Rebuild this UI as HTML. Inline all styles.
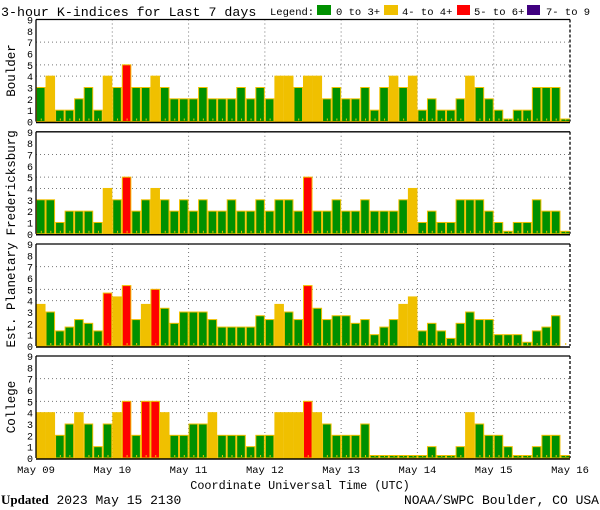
<!DOCTYPE html>
<html><head><meta charset="utf-8">
<style>
body{margin:0;background:#fff;width:600px;height:510px;overflow:hidden}
svg{display:block}
text{font-family:"Liberation Mono",monospace}
</style></head>
<body>
<svg id="chart" width="600" height="510" viewBox="0 0 600 510" xmlns="http://www.w3.org/2000/svg">
<text x="1" y="16" font-size="13.3" fill="#000">3-hour K-indices for Last 7 days</text>
<g>
<text x="270" y="15" font-size="10.5">Legend:</text>
<rect x="317" y="5" width="14" height="10" fill="#009000"/><text x="336" y="15" font-size="10.5">0 to 3+</text>
<rect x="384" y="5" width="14" height="10" fill="#f0c000"/><text x="402" y="15" font-size="10.5">4- to 4+</text>
<rect x="457" y="5" width="13" height="10" fill="#ff0000"/><text x="474" y="15" font-size="10.5">5- to 6+</text>
<rect x="527" y="5" width="13" height="10" fill="#400080"/><text x="546" y="15" font-size="10.5">7- to 9</text>
</g>
<g id="panels"></g>
<text x="300" y="489" font-size="11.8" text-anchor="middle">Coordinate Universal Time (UTC)</text>
<text x="1" y="504" font-size="13"><tspan font-family="Liberation Serif,serif" font-weight="bold">Updated</tspan> 2023 May 15 2130</text>
<text x="599" y="504" font-size="13" text-anchor="end">NOAA/SWPC Boulder, CO USA</text>
</svg>
<script>
const stations = ["Boulder","Fredericksburg","Est. Planetary","College"];
const boulder = [3,4,1,1,2,3,1,4, 3,5,3,3,4,3,2,2, 2,3,2,2,2,3,2,3, 2,4,4,3,4,4,2,3, 2,2,3,1,3,4,3,4, 1,2,1,1,2,4,3,2, 1,0,1,1,3,3,3,0];
const fredericksburg = [3,3,1,2,2,2,1,4, 3,5,2,3,4,3,2,3, 2,3,2,2,3,2,2,3, 2,3,3,2,5,2,2,3, 2,2,3,2,2,2,3,4, 1,2,1,1,3,3,3,2, 1,0,1,1,3,2,2,0];
const planetary = [3.67,3,1.33,1.67,2.33,2,1.33,4.67, 4.33,5.33,2.33,3.67,5,3.33,2,3, 3,3,2.33,1.67,1.67,1.67,1.67,2.67, 2.33,3.67,3,2.33,5.33,3.33,2.33,2.67, 2.67,2,2.33,1,1.67,2.33,3.67,4.33, 1.33,2,1.33,0.67,2,3,2.33,2.33, 1,1,1,0.33,1.33,1.67,2.67,null];
const college = [4,4,2,3,4,3,1,3, 4,5,2,5,5,4,2,2, 3,3,4,2,2,2,1,2, 2,4,4,4,5,4,3,2, 2,2,3,0,0,0,0,0, 0,1,0,0,1,4,3,2, 2,1,0,0,1,2,2,0];
const series = [boulder,fredericksburg,planetary,college];
const dayLabels = ["May 09","May 10","May 11","May 12","May 13","May 14","May 15","May 16"];
const yTicks = [0,1,2,3,4,5,6,7,8,9];

const NS="http://www.w3.org/2000/svg";
const X0=36, X1=570, PH=102, tops=[19.5,131.8,244,356];
const bw=(X1-X0)/56;
const xPos=i=>X0+i*bw;
function mk(tag,attrs,parent){const e=document.createElementNS(NS,tag);for(const k in attrs)e.setAttribute(k,attrs[k]);parent.appendChild(e);return e;}
function color(v){return v<3.5?"#009000":v<4.5?"#f0c000":v<6.5?"#ff0000":"#400080";}
const root=document.getElementById("panels");
series.forEach((data,p)=>{
  const top=tops[p], bot=top+PH;
  const yPos=v=>bot-v*PH/9;
  const g=mk("g",{},root);
  
  
  [4,5,7].forEach(v=>mk("line",{x1:X0,x2:X1,y1:yPos(v),y2:yPos(v),stroke:"#777","stroke-dasharray":"1,3"},g));
  for(let d=1;d<7;d++)mk("line",{x1:xPos(d*8),x2:xPos(d*8),y1:top,y2:bot,stroke:"#777","stroke-dasharray":"1,3"},g);
  data.forEach((v,i)=>{
    if(v===null)return;
    const h=Math.max(v*PH/9,2.5);
    const r=mk("rect",{x:xPos(i)+0.5,y:bot-h,width:bw-1,height:h,fill:color(v),stroke:"#f0c000","stroke-width":1},g);
    
    
  });
  for(let i=0;i<56;i++)mk("rect",{x:xPos(i)+bw/2,y:bot-3,width:1,height:2,fill:"#f0c000"},g);
  mk("line",{x1:X0,x2:X1,y1:top,y2:top,stroke:"#000","stroke-width":1.3},g);
  mk("line",{x1:X0,x2:X0,y1:top,y2:bot,stroke:"#000","stroke-width":1.3},g);
  mk("line",{x1:X0,x2:X1,y1:bot+1,y2:bot+1,stroke:"#000","stroke-width":1.5},g);
  mk("line",{x1:X1,x2:X1,y1:top,y2:bot,stroke:"#000","stroke-width":1.3,"stroke-dasharray":"3,2"},g);
  yTicks.forEach(t=>{const tx=mk("text",{x:33,y:yPos(t)+4,"font-size":"10","text-anchor":"end"},g);tx.textContent=t;});
  const lab=mk("text",{x:0,y:0,"font-size":"12.5","text-anchor":"middle","font-family":"Liberation Sans,sans-serif",transform:`translate(15,${top+PH/2}) rotate(-90)`},g);
  lab.textContent=stations[p];
  
  
});
dayLabels.forEach((d,i)=>{
  const t=mk("text",{x:xPos(i*8),y:473,"font-size":"10.5","text-anchor":"middle"},root);
  t.textContent=d;
  
  
});
</script>
</body></html>
